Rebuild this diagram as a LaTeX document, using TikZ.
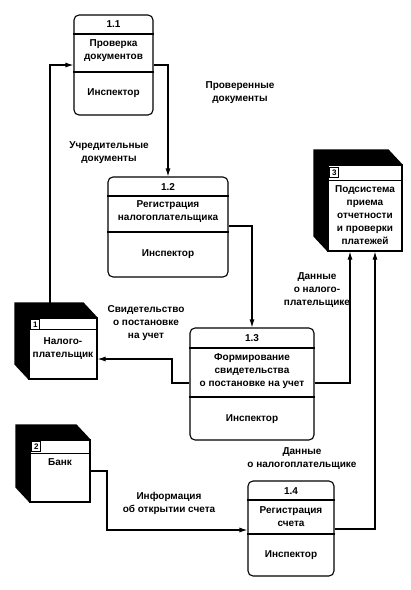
\documentclass[tikz,border=0pt]{standalone}
\usepackage{fontspec}
\setmainfont{Liberation Sans}
\usetikzlibrary{arrows.meta}
\tikzset{
  proc/.style={draw,line width=1.1pt,rounded corners=5pt,inner sep=0pt},
  ext/.style={draw,line width=1.1pt,fill=white,inner sep=0pt},
  numbox/.style={draw,line width=.8pt,fill=white,inner sep=0pt,minimum width=9pt,minimum height=10pt,font=\fontsize{8}{8}\selectfont\bfseries},
  txt/.style={font=\fontsize{10}{13}\selectfont\bfseries,align=center,inner sep=0pt},
  flow/.style={line width=1.1pt,-{Latex[length=8pt,width=5pt]}},
  rule/.style={line width=1.1pt},
}
\begin{document}
\begin{tikzpicture}[x=1pt,y=-1pt]
\useasboundingbox[fill=white] (0,0) rectangle (411,590);
% ---- processes: number, name, performer
\node[proc,minimum width=79pt,minimum height=100pt] (p11) at (113.5,65) {};
\node[proc,minimum width=120pt,minimum height=100pt] (p12) at (168,227) {};
\node[proc,minimum width=124pt,minimum height=112pt] (p13) at (252,384) {};
\node[proc,minimum width=86pt,minimum height=95pt] (p14) at (291,528.5) {};
\foreach \p/\a/\b in {p11/34/72,p12/196/232,p13/348/397,p14/500/534}{
  \draw[rule] (\p.west |- 0,\a) -- (\p.east |- 0,\a);
  \draw[rule] (\p.west |- 0,\b) -- (\p.east |- 0,\b);
}
\node[txt] (p11num) at (113.5,24) {1.1};
\node[txt] (p11name) at (113.5,51) {Проверка\\документов};
\node[txt] (p11who) at (113.5,93) {Инспектор};
\node[txt] (p12num) at (168,187) {1.2};
\node[txt] (p12name) at (168,212) {Регистрация\\налогоплательщика};
\node[txt] (p12who) at (168,254) {Инспектор};
\node[txt] (p13num) at (252,338) {1.3};
\node[txt] (p13name) at (252,371) {Формирование\\свидетельства\\о постановке на учет};
\node[txt] (p13who) at (252,419) {Инспектор};
\node[txt] (p14num) at (291,491) {1.4};
\node[txt] (p14name) at (291,517) {Регистрация\\счета};
\node[txt] (p14who) at (291,555) {Инспектор};
% ---- external entities, drawn as blocks with a black top and side
\node[ext,minimum width=68pt,minimum height=61pt] (e1) at (63,348.5) {};
\node[ext,minimum width=60pt,minimum height=62pt] (e2) at (60,471) {};
\node[ext,minimum width=74pt,minimum height=86pt] (e3) at (365,208) {};
\foreach \e/\h in {e1/12,e2/14,e3/16}{
  \fill (\e.north east) -- ++(-14,-15) -- ([shift={(-14,-15)}]\e.north west)
    -- ([shift={(-14,-15)}]\e.south west) -- (\e.south west) -- (\e.north west) -- cycle;
  \draw[rule] (\e.north west) rectangle (\e.south east);
  \draw[rule] ([shift={(0,\h)}]\e.north west) -- ([shift={(0,\h)}]\e.north east);
}
\node[numbox,anchor=north west] (e1num) at ([shift={(2,1.5)}]e1.north west) {1};
\node[numbox,anchor=north west] (e2num) at ([shift={(2,2)}]e2.north west) {2};
\node[numbox,anchor=north west] (e3num) at ([shift={(2,2.5)}]e3.north west) {3};
\node[txt] (e1name) at (63,349) {Налого-\\плательщик};
\node[txt] (e2name) at (60,462) {Банк};
\node[txt] (e3name) at (365,215) {Подсистема\\приема\\отчетности\\и проверки\\платежей};
% ---- data flows
\coordinate (e1top) at (50,303);
\draw[flow] (e1top) |- (p11.west |- 0,65);
\draw[flow] (p11.east |- 0,65) -| (p12.north);
\draw[flow] (p12.east |- 0,226) -| (p13.north);
\draw[flow] (p13.west |- 0,383) -- (172,383) |- (e1.east |- 0,359);
\draw[flow] (p13.east |- 0,383) -| (e3.south -| 350,0);
\draw[flow] (p14.east |- 0,529) -| (e3.south -| 375,0);
\draw[flow] (e2.east) -- (107,471) |- (p14.west |- 0,530);
% flow labels
\node[txt] (lbl1) at (240,93) {Проверенные\\документы};
\node[txt] (lbl2) at (109,153) {Учредительные\\документы};
\node[txt] (lbl3) at (146,323) {Свидетельство\\о постановке\\на учет};
\node[txt] (lbl4) at (317,290) {Данные\\о налого-\\плательщике};
\node[txt] (lbl5) at (302,459) {Данные\\о налогоплательщике};
\node[txt] (lbl6) at (169,503) {Информация\\об открытии счета};
\end{tikzpicture}
\end{document}
